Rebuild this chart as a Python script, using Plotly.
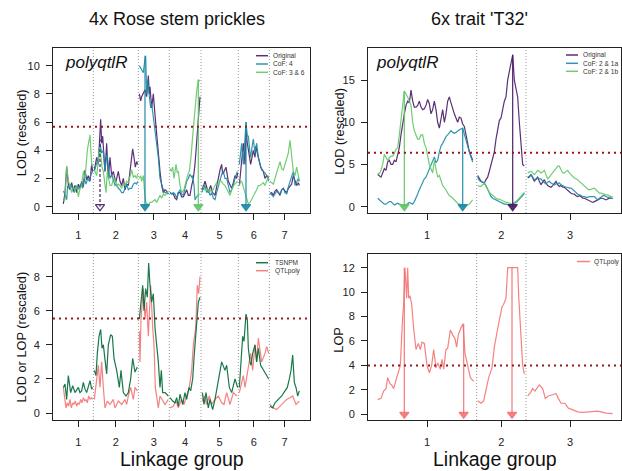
import bisect
import plotly.graph_objects as go

# ======================= DATA =======================
# --- 4x rose: map (cM) ---
rose_lg_names = ["1", "2", "3", "4", "5", "6", "7"]
rose_lg_bounds = [0, 90, 225, 318, 413, 525, 618, 710]

rose_threshold_top = 5.67
rose_threshold_bottom = 5.54

# polyqtlR, Original
rose_original_cm = [0, 5, 10, 15, 20, 25, 30, 35, 40, 45, 50, 55, 60, 65, 70, 75, 80, 85, 88,
                    93, 100, 105, 108, 112, 115, 118, 122, 125, 130, 135, 140, 145, 150, 157, 165, 170, 175, 180, 185, 190, 195, 200, 204, 208, 212, 216, 220, 223,
                    228, 232, 235, 240, 245, 250, 255, 258, 260, 265, 270, 275, 280, 285, 290, 295, 300, 305, 310, 315,
                    320, 325, 330, 335, 340, 345, 350, 355, 360, 365, 370, 375, 380, 385, 390, 395, 400, 405, 410,
                    415, 420, 425, 430, 435, 442, 448, 455, 460, 465, 470, 475, 478, 482, 488, 495, 500, 505, 510, 515, 520, 523,
                    528, 532, 535, 540, 545, 548, 552, 555, 560, 562, 566, 570, 575, 578, 582, 585, 592, 600, 605, 610, 616,
                    620, 625, 630, 635, 640, 645, 650, 655, 660, 665, 670, 675, 680, 685, 690, 695, 700, 705, 708]
rose_original_lod = [0.2, 1.0, 2.8, 1.6, 1.2, 1.7, 1.1, 1.5, 1.0, 1.6, 1.3, 1.8, 1.4, 2.6, 1.9, 2.2, 1.8, 3.0, 2.5,
                     2.6, 3.5, 3.0, 4.8, 6.2, 4.5, 5.0, 3.5, 2.5, 4.5, 2.0, 3.5, 2.2, 2.5, 1.7, 2.5, 1.8, 1.5, 2.0, 1.2, 1.6, 1.5, 2.5, 3.2, 4.1, 3.5, 2.8, 3.2, 3.0,
                     8.0, 7.5, 7.8, 8.0, 8.3, 7.8, 9.3, 8.0, 8.5, 7.0, 8.0, 6.5, 5.0, 3.5, 2.5, 1.5, 1.0, 1.2, 1.1, 0.9,
                     1.0, 0.9, 0.9, 0.6, 0.5, 1.0, 1.0, 0.7, 0.7, 1.0, 1.2, 0.8, 0.8, 1.5, 2.0, 3.0, 4.5, 6.0, 7.8,
                     1.2, 1.4, 1.8, 1.3, 1.0, 1.5, 1.0, 0.8, 1.5, 2.2, 2.6, 3.0, 2.3, 2.5, 2.8, 1.8, 1.6, 1.3, 1.7, 2.2, 2.0, 2.4,
                     1.5, 2.5, 3.5, 4.5, 3.0, 5.5, 4.5, 4.0, 3.2, 3.0, 3.5, 4.0, 3.5, 4.3, 3.8, 3.5, 2.8, 2.5, 2.0, 2.2, 2.0,
                     0.9, 1.0, 0.8, 1.1, 1.2, 1.0, 0.8, 1.2, 1.3, 1.1, 1.0, 1.3, 1.5, 1.6, 2.2, 1.8, 1.5, 1.7, 1.5]

# polyqtlR, CoF: 4
rose_cof4_cm = [0, 5, 10, 13, 18, 23, 28, 33, 38, 43, 48, 53, 58, 63, 68, 73, 78, 83, 88,
                93, 100, 105, 110, 115, 120, 123, 125, 128, 132, 136, 140, 145, 150, 155, 160, 165, 170, 175, 180, 185, 190, 195, 200, 205, 210, 215, 220, 223,
                228, 232, 235, 240, 244, 247, 250, 253, 255, 258, 262, 265, 268, 272, 275, 278, 282, 285, 290, 295, 300, 305, 310, 315,
                320, 325, 330, 335, 340, 345, 350, 355, 360, 365, 370, 375, 380, 385, 388, 392, 395, 400, 408,
                415, 420, 425, 430, 435, 440, 445, 450, 455, 460, 465, 470, 475, 480, 485, 490, 495, 500, 505, 510, 515, 522,
                528, 532, 535, 540, 545, 548, 552, 555, 560, 562, 566, 570, 575, 580, 585, 590, 595, 600, 605, 610, 616,
                620, 625, 630, 635, 640, 645, 650, 655, 660, 665, 670, 675, 680, 685, 690, 695, 700, 705, 708]
rose_cof4_lod = [1.1, 0.9, 0.5, 1.5, 1.3, 1.6, 1.2, 1.0, 1.5, 1.2, 1.4, 1.6, 1.3, 2.0, 1.6, 2.0, 1.8, 2.3, 2.5,
                 2.5, 3.0, 3.5, 4.5, 3.8, 4.0, 2.8, 2.5, 3.2, 3.7, 2.5, 2.0, 2.3, 1.8, 1.5, 1.6, 1.3, 1.2, 1.0, 1.0, 1.3, 1.6, 1.2, 1.3, 1.3, 1.6, 1.7, 1.6, 1.8,
                 10.0, 9.8, 9.7, 9.5, 10.3, 10.7, 8.0, 9.0, 8.5, 8.0, 7.0, 7.3, 6.7, 6.0, 5.5, 5.0, 4.0, 3.5, 2.0, 1.5, 1.2, 1.0, 1.0, 0.9,
                 1.0, 0.9, 1.0, 0.9, 0.6, 1.0, 1.2, 0.9, 0.8, 1.3, 1.8, 2.0, 2.3, 2.1, 2.2, 1.5, 0.5, 0.7, 0.9,
                 1.0, 1.3, 1.5, 1.0, 1.2, 0.8, 1.0, 0.6, 0.5, 1.0, 1.5, 2.0, 2.3, 2.5, 2.0, 2.0, 1.4, 1.0, 1.2, 1.5, 2.0, 2.5,
                 3.0, 4.0, 4.5, 3.0, 4.5, 6.0, 5.0, 5.0, 3.8, 3.5, 4.2, 4.8, 3.8, 4.5, 3.5, 3.0, 2.6, 2.5, 2.4, 2.2, 1.8,
                 1.0, 0.8, 0.7, 0.9, 1.1, 1.0, 0.9, 1.2, 1.3, 1.0, 0.9, 1.4, 1.8, 2.2, 2.5, 1.5, 1.8, 2.0, 1.8]

# polyqtlR, CoF: 3 & 6
rose_cof36_cm = [0, 5, 10, 15, 20, 25, 30, 35, 40, 45, 50, 55, 60, 65, 72, 76, 80, 85, 88,
                 93, 100, 104, 108, 113, 116, 120, 124, 128, 132, 135, 140, 145, 150, 155, 160, 165, 170, 175, 180, 185, 190, 195, 200, 205, 210, 215, 220, 223,
                 228, 232, 235, 240, 244, 247, 252, 255, 260, 265, 270, 275, 280, 285, 290, 295, 300, 305, 310, 315,
                 320, 324, 328, 332, 338, 342, 345, 350, 355, 360, 362, 366, 370, 374, 378, 383, 388, 392, 396, 400, 405, 410,
                 415, 420, 425, 430, 435, 440, 445, 450, 455, 460, 465, 470, 475, 480, 485, 490, 495, 500, 505, 510, 515, 523,
                 528, 532, 535, 540, 545, 548, 552, 555, 560, 565, 570, 575, 580, 585, 590, 595, 600, 605, 610, 616,
                 620, 625, 630, 635, 640, 645, 650, 655, 660, 665, 670, 675, 680, 685, 690, 695, 700, 705, 708]
rose_cof36_lod = [0.4, 0.5, 2.9, 1.8, 1.5, 1.0, 1.4, 1.2, 1.5, 0.7, 1.3, 1.5, 2.5, 2.0, 4.0, 4.5, 5.1, 3.0, 2.8,
                  2.6, 2.2, 3.0, 4.2, 3.5, 2.8, 2.5, 1.8, 1.0, 2.5, 2.2, 1.5, 1.5, 2.0, 2.0, 1.4, 1.6, 1.5, 1.3, 1.6, 1.5, 1.8, 1.7, 2.2, 2.6, 2.1, 2.2, 2.0, 2.3,
                  2.0, 2.2, 1.8, 2.2, 1.0, 0.3, 0.2, 0.1, 0.3, 0.3, 0.4, 0.5, 0.3, 0.5, 0.8, 0.6, 0.9, 0.8, 1.0, 1.1,
                  2.7, 2.5, 2.8, 2.0, 3.0, 2.4, 2.5, 1.5, 1.0, 1.1, 1.2, 1.6, 2.0, 2.3, 2.5, 3.5, 5.0, 6.0, 7.5, 8.2, 9.0, 8.9,
                  1.5, 1.4, 1.2, 1.3, 1.1, 1.2, 1.0, 1.3, 1.5, 1.7, 1.5, 1.9, 1.7, 1.6, 1.5, 1.3, 1.0, 0.8, 1.2, 1.5, 1.6, 1.8,
                  1.5, 1.8, 1.8, 1.4, 1.0, 0.8, 0.4, 0.2, 0.3, 0.5, 0.8, 1.0, 1.2, 1.5, 1.5, 1.6, 1.7, 1.5, 1.8, 2.2,
                  1.8, 1.7, 1.6, 2.0, 2.5, 2.8, 3.2, 2.7, 2.6, 3.0, 3.3, 3.8, 4.7, 3.5, 2.5, 2.2, 2.8, 2.2, 1.8]

# TSNPM (LOD, rescaled)
rose_tsnpm_cm = [0, 5, 10, 15, 22, 28, 35, 40, 45, 50, 55, 60, 65, 70, 75, 80, 85, 88,
                 93, 98, 102, 107, 112, 116, 120, 125, 130, 135, 142, 147, 152, 160, 168, 173, 180, 188, 195, 202, 208, 215, 222,
                 228, 232, 238, 242, 247, 252, 256, 260, 265, 270, 275, 280, 285, 290, 294, 298, 305, 315,
                 320, 328, 335, 340, 345, 350, 358, 365, 370, 377, 382, 388, 393, 400, 405, 410,
                 417, 422, 428, 435, 440, 448, 455, 465, 475, 485, 490, 498, 505, 515, 523,
                 528, 532, 538, 542, 548, 552, 555, 560, 563, 568, 575, 580, 585, 592, 600, 610, 616,
                 620, 628, 635, 645, 655, 665, 672, 678, 683, 688, 693, 698, 703, 708]
rose_tsnpm_lod = [1.5, 1.7, 0.8, 2.2, 1.2, 1.6, 1.2, 1.4, 1.5, 1.2, 1.3, 1.8, 1.4, 1.2, 1.6, 1.9, 1.4, 1.5,
                  2.5, 2.2, 3.5, 4.5, 4.9, 3.8, 4.0, 3.2, 2.3, 4.0, 4.6, 4.5, 3.2, 2.5, 1.5, 2.5, 1.2, 1.0, 1.2, 2.0, 3.2, 2.4, 2.7,
                  5.5, 6.5, 7.5, 6.0, 7.3, 6.8, 8.8, 7.5, 6.5, 7.0, 5.0, 4.0, 3.0, 1.5, 2.5, 1.2, 1.2, 1.0,
                  0.9, 0.7, 0.6, 0.9, 0.4, 1.1, 0.5, 1.2, 0.8, 1.5, 1.3, 2.0, 3.5, 5.0, 6.5, 6.8,
                  1.2, 0.5, 1.2, 0.3, 0.8, 0.2, 0.8, 2.0, 3.0, 2.5, 2.8, 1.5, 1.2, 2.0, 1.5,
                  1.5, 3.0, 4.5, 4.2, 5.8, 5.5, 3.8, 3.0, 2.8, 3.5, 4.0, 3.0, 3.8, 2.8, 2.5, 2.2, 2.0,
                  0.4, 0.3, 0.6, 0.8, 1.0, 1.3, 1.5, 2.0, 2.5, 3.4, 1.8, 1.5, 1.0, 1.3]

# QTLpoly (LOP, rescaled)
rose_qtlpoly_cm = [0, 4, 8, 12, 16, 20, 24, 28, 32, 36, 40, 44, 48, 52, 56, 60, 64, 68, 72, 76, 80, 84, 88,
                   93, 100, 105, 110, 115, 120, 125, 132, 140, 150, 155, 165, 175, 185, 190, 195, 202, 210, 215, 222,
                   228, 230, 233, 240, 245, 250, 255, 262, 268, 272, 276, 280, 285, 290, 297, 305, 315,
                   320, 330, 338, 345, 355, 362, 370, 378, 385, 390, 397, 402, 406, 410,
                   417, 423, 430, 438, 445, 455, 465, 475, 482, 490, 500, 510, 520,
                   528, 535, 540, 545, 555, 562, 568, 575, 580, 585, 595, 605, 610, 616,
                   620, 630, 640, 650, 660, 670, 680, 688, 698, 708]
rose_qtlpoly_lop = [1.5, 0.8, 0.3, 0.6, 0.4, 0.8, 0.3, 0.6, 0.5, 0.7, 0.4, 0.6, 0.5, 0.8, 0.6, 0.9, 0.7, 0.8, 0.6, 1.0, 0.8, 0.9, 0.8,
                    0.8, 2.0, 2.8, 1.5, 3.0, 1.5, 0.3, 0.7, 0.5, 0.8, 0.3, 0.7, 0.5, 0.8, 0.5, 1.0, 1.5, 0.8, 1.5, 1.3,
                    4.8, 3.0, 5.5, 7.3, 5.5, 6.5, 4.5, 7.5, 5.0, 4.0, 1.5, 0.8, 0.3, 1.0, 0.8, 0.5, 0.8,
                    0.3, 0.4, 0.7, 0.3, 0.8, 0.5, 1.0, 1.5, 2.5, 4.0, 5.0, 7.5, 7.0, 8.0,
                    0.7, 1.0, 0.5, 1.0, 0.5, 0.8, 1.0, 0.6, 0.5, 1.2, 0.5, 1.2, 1.0,
                    1.2, 1.8, 2.2, 1.5, 2.8, 3.5, 2.5, 4.0, 3.0, 4.4, 3.0, 3.5, 3.9, 3.5,
                    0.5, 0.3, 0.2, 0.4, 0.6, 0.8, 0.9, 1.0, 0.5, 0.7]

# QTL peaks marked by arrows (top panel)
rose_arrow_cm = [110, 245, 405, 548]
rose_arrow_top = [4.8, 10.7, 9.0, 6.0]
rose_arrow_series = ["Original", "CoF: 4", "CoF: 3 & 6", "CoF: 4"]

# --- 6x T32: map (cM) ---
t32_lg_names = ["1", "2", "3"]
t32_lg_bounds = [0, 297, 445, 710]

t32_threshold_top = 6.4
t32_threshold_bottom = 4.0

t32_lg1_cm = [0, 5, 10, 15, 20, 25, 30, 35, 40, 45, 50, 55, 60, 65, 70, 75, 80, 85, 90, 95,
              100, 105, 110, 115, 120, 125, 130, 135, 140, 145, 150, 155, 160, 165, 170, 175, 180, 185, 190, 195,
              200, 205, 210, 215, 220, 225, 230, 235, 240, 245, 250, 255, 260, 265, 270, 275, 280, 285]
t32_lg2_cm = [300, 305, 310, 315, 320, 325, 330, 335, 340, 345, 350, 355, 360, 365, 370, 375, 380, 385, 390, 395,
              400, 405, 410, 415, 420, 425, 430, 435, 440]
t32_lg3_cm = [450, 455, 460, 465, 470, 475, 480, 485, 490, 495, 500, 505, 510, 515, 520, 525, 530, 535, 540, 545,
              550, 555, 560, 565, 570, 575, 580, 585, 590, 595, 600, 605, 610, 615, 620, 625, 630, 635, 640, 645,
              650, 655, 660, 665, 670, 675, 680, 685, 690, 695, 700, 705]

t32_original_lod = [3.8, 3.6, 3.5, 4.0, 4.5, 4.3, 5.3, 5.5, 5.0, 5.0, 5.5, 5.3, 6.0, 7.0, 8.5, 10.0, 11.0, 12.0, 12.5, 12.3,
                    13.8, 12.5, 11.8, 11.8, 12.0, 12.5, 11.8, 11.5, 11.6, 12.0, 12.7, 12.2, 11.0, 11.5, 12.5, 11.5, 10.0, 9.3, 10.5, 11.5,
                    10.0, 11.0, 12.5, 13.0, 12.3, 11.5, 11.0, 10.5, 10.0, 10.6, 10.5, 9.8, 9.5, 8.5, 7.5, 6.5, 6.0, 5.5,
                    3.7, 3.3, 3.0, 2.9, 2.8, 3.2, 3.5, 4.2, 5.0, 5.5, 6.5, 8.0, 9.0, 10.2, 10.5, 11.5, 12.5, 13.0, 15.0, 16.0,
                    17.0, 18.0, 15.0, 14.0, 13.0, 10.0, 7.5, 5.0, 4.8,
                    3.4, 3.5, 3.8, 3.3, 3.0, 3.3, 3.5, 3.0, 2.6, 2.9, 3.2, 2.8, 2.5, 2.4, 2.3, 2.5, 2.8, 3.0, 2.6, 2.4,
                    2.5, 2.3, 2.3, 2.1, 2.0, 1.8, 1.6, 1.5, 1.5, 1.3, 1.2, 1.3, 1.2, 1.0, 1.0, 0.9, 0.8, 0.7, 0.6, 0.5,
                    0.6, 0.7, 0.8, 0.9, 1.0, 1.0, 0.9, 0.8, 0.9, 1.0, 1.0, 1.0]
t32_cof21a_lod = [1.0, 0.8, 0.6, 0.5, 0.3, 0.3, 0.5, 0.6, 0.6, 0.4, 0.2, 0.3, 0.4, 0.3, 0.2, 0.1, 0.1, 0.2, 0.4, 0.5,
                  0.4, 0.3, 0.6, 1.0, 1.5, 2.0, 2.5, 3.0, 3.3, 3.5, 4.0, 4.5, 5.0, 5.5, 5.9, 5.2, 5.5, 6.5, 7.2, 7.5,
                  8.0, 8.3, 8.5, 8.8, 9.0, 8.8, 8.7, 8.8, 9.0, 9.1, 9.2, 9.3, 8.6, 8.0, 7.2, 6.5, 6.0, 5.3,
                  3.5, 3.1, 3.0, 2.9, 2.8, 2.5, 2.0, 1.5, 1.2, 1.0, 0.9, 0.8, 0.7, 0.6, 0.5, 0.4, 0.3, 0.3, 0.2, 0.2,
                  0.2, 0.3, 0.4, 0.5, 0.7, 0.9, 1.0, 1.3, 1.6,
                  3.5, 3.6, 3.8, 3.5, 3.2, 3.2, 3.4, 3.3, 3.3, 3.0, 2.9, 2.7, 2.9, 3.0, 2.8, 2.7, 2.6, 2.7, 2.8, 2.8,
                  2.6, 2.5, 2.4, 2.3, 2.3, 2.2, 2.2, 2.0, 1.8, 1.6, 1.5, 1.4, 1.3, 1.2, 1.2, 1.1, 1.1, 1.2, 1.2, 1.2,
                  1.2, 1.0, 0.8, 1.0, 1.1, 1.3, 1.3, 1.2, 1.1, 1.1, 1.0, 1.0]
t32_cof21b_lod = [4.0, 3.9, 4.3, 5.0, 6.2, 5.8, 5.5, 5.8, 6.0, 6.0, 6.3, 6.8, 7.0, 8.5, 10.0, 12.0, 13.7, 13.4, 13.0, 12.5,
                  12.0, 10.0, 9.0, 8.5, 8.0, 8.0, 8.5, 8.5, 7.5, 7.0, 6.0, 5.0, 4.5, 4.0, 5.5, 4.5, 3.5, 3.7, 3.0, 2.5,
                  2.3, 2.0, 1.6, 1.3, 1.2, 1.0, 0.7, 0.6, 0.4, 0.3, 0.2, 0.1, 0.1, 0.2, 0.2, 0.3, 0.5, 0.8,
                  2.5, 2.4, 2.4, 2.6, 2.8, 2.4, 2.0, 1.7, 1.5, 1.3, 1.1, 1.0, 0.9, 0.9, 0.8, 0.7, 0.6, 0.5, 0.5, 0.4,
                  0.3, 0.4, 0.5, 0.6, 0.8, 1.0, 1.2, 1.5, 1.7,
                  4.0, 4.1, 4.2, 4.0, 3.8, 4.0, 4.3, 4.2, 4.0, 4.1, 4.3, 3.8, 3.3, 3.5, 3.8, 4.0, 4.3, 4.5, 4.8, 4.8,
                  4.4, 4.0, 4.0, 4.2, 4.3, 4.0, 3.8, 3.5, 3.4, 3.3, 3.2, 3.0, 2.8, 2.7, 2.5, 2.3, 2.1, 2.0, 2.1, 2.2,
                  2.2, 2.0, 1.8, 1.6, 1.6, 1.5, 1.5, 1.4, 1.4, 1.3, 1.2, 1.2]

t32_arrow_cm = [80, 255, 405]
t32_arrow_top = [13.7, 9.3, 18.0]
t32_arrow_series = ["CoF: 2 & 1b", "CoF: 2 & 1a", "Original"]

# QTLpoly (LOP) for T32
t32_qtlpoly_cm = [0, 10, 18, 25, 30, 37, 42, 48, 55, 62, 68, 75, 78, 82, 87, 90, 93, 97, 102, 108,
                  115, 122, 128, 133, 140, 148, 155, 162, 168, 175, 180, 188, 193, 198, 205, 210, 218, 225, 232, 237,
                  242, 250, 256, 262, 270, 278, 288,
                  300, 310, 318, 325, 333, 343, 350, 360, 373, 378, 385, 390, 420, 423, 428, 435, 440,
                  450, 457, 465, 472, 485, 495, 503, 512, 525, 535, 542, 550, 562, 572, 582, 590, 600, 615, 630, 645,
                  660, 670, 685, 705]
t32_qtlpoly_lop = [1.2, 1.3, 1.9, 2.1, 3.0, 2.5, 2.4, 2.1, 2.8, 3.5, 4.0, 8.0, 9.0, 12.0, 9.5, 12.0, 9.5, 9.7, 9.0, 7.0,
                   5.3, 5.8, 5.3, 5.9, 5.8, 4.0, 3.4, 4.0, 5.3, 3.8, 4.2, 3.7, 4.5, 3.7, 5.3, 5.4, 6.9, 6.5, 6.2, 5.5,
                   6.5, 7.1, 7.4, 5.0, 4.0, 3.0, 2.7,
                   1.1, 0.9, 1.1, 2.0, 3.0, 3.8, 5.5, 7.0, 8.8, 9.0, 9.5, 12.0, 12.0, 9.7, 7.0, 4.0, 3.3,
                   1.5, 1.7, 2.1, 1.9, 2.4, 2.1, 1.3, 1.5, 1.6, 1.7, 1.3, 0.9, 0.9, 0.5, 0.4, 0.3, 0.2, 0.15, 0.2, 0.25,
                   0.25, 0.2, 0.1, 0.05]
t32_qtlpoly_arrow_cm = [80, 258, 403]
t32_qtlpoly_arrow_top = [12.0, 7.4, 12.0]

# ======================= STYLE =======================
W, H = 622, 471
FONT = "Liberation Sans, Arial, Helvetica, sans-serif"
COL = {
    "Original": "rgba(72,26,104,0.9)",
    "CoF: 4": "rgba(28,138,166,0.9)",
    "CoF: 3 & 6": "rgba(96,200,100,0.9)",
    "CoF: 2 & 1a": "rgba(28,138,166,0.9)",
    "CoF: 2 & 1b": "rgba(96,200,100,0.9)",
    "TSNPM": "rgba(0,104,55,0.9)",
    "QTLpoly": "rgba(242,108,108,0.85)",
}
THR_COL = "#9b1616"
SEP_COL = "#9a9a9a"
LW = 1.2


def fx(px):
    return px / W


def fy(py):
    return 1 - py / H


def split_lg(pos, val, bounds):
    xs, ys, prev = [], [], None
    for p, v in zip(pos, val):
        g = bisect.bisect_right(bounds, p)
        if prev is not None and g != prev:
            xs.append(None)
            ys.append(None)
        xs.append(p)
        ys.append(v)
        prev = g
    return xs, ys


def mids(bounds):
    return [(a + b) / 2 for a, b in zip(bounds[:-1], bounds[1:])]


fig = go.Figure()


def add_series(pos, val, bounds, color, xa, ya):
    xs, ys = split_lg(pos, val, bounds)
    fig.add_trace(go.Scatter(x=xs, y=ys, mode="lines", line=dict(color=color, width=LW),
                             xaxis=xa, yaxis=ya, hoverinfo="skip", connectgaps=False))


def add_arrow(x, top, color, xa, ya, dashed=False):
    fig.add_trace(go.Scatter(x=[x, x], y=[top, 0], mode="lines",
                             line=dict(color=color, width=1.3, dash="3px,2px" if dashed else "solid"),
                             xaxis=xa, yaxis=ya, hoverinfo="skip"))
    fig.add_trace(go.Scatter(x=[x], y=[0], mode="markers",
                             marker=dict(symbol="triangle-down-open" if dashed else "triangle-down",
                                         size=8, color=color, line=dict(color=color, width=1.2)),
                             xaxis=xa, yaxis=ya, hoverinfo="skip"))


# top-left: rose polyqtlR
add_series(rose_original_cm, rose_original_lod, rose_lg_bounds, COL["Original"], "x", "y")
add_series(rose_cof4_cm, rose_cof4_lod, rose_lg_bounds, COL["CoF: 4"], "x", "y")
add_series(rose_cof36_cm, rose_cof36_lod, rose_lg_bounds, COL["CoF: 3 & 6"], "x", "y")
for x, t, s in zip(rose_arrow_cm, rose_arrow_top, rose_arrow_series):
    add_arrow(x, t, COL[s], "x", "y", dashed=(s == "Original"))

# top-right: T32 polyqtlR
t32_cm = t32_lg1_cm + t32_lg2_cm + t32_lg3_cm
add_series(t32_cm, t32_original_lod, t32_lg_bounds, COL["Original"], "x2", "y2")
add_series(t32_cm, t32_cof21a_lod, t32_lg_bounds, COL["CoF: 2 & 1a"], "x2", "y2")
add_series(t32_cm, t32_cof21b_lod, t32_lg_bounds, COL["CoF: 2 & 1b"], "x2", "y2")
for x, t, s in zip(t32_arrow_cm, t32_arrow_top, t32_arrow_series):
    add_arrow(x, t, COL[s], "x2", "y2")

# bottom-left: rose TSNPM vs QTLpoly
add_series(rose_qtlpoly_cm, rose_qtlpoly_lop, rose_lg_bounds, COL["QTLpoly"], "x3", "y3")
add_series(rose_tsnpm_cm, rose_tsnpm_lod, rose_lg_bounds, COL["TSNPM"], "x3", "y3")

# bottom-right: T32 QTLpoly
add_series(t32_qtlpoly_cm, t32_qtlpoly_lop, t32_lg_bounds, COL["QTLpoly"], "x4", "y4")
for x, t in zip(t32_qtlpoly_arrow_cm, t32_qtlpoly_arrow_top):
    add_arrow(x, t, COL["QTLpoly"], "x4", "y4")

# ======================= AXES =======================
TL = dict(x0=53, x1=310, y0=47.5, y1=213)
TR = dict(x0=368, x1=621, y0=47.5, y1=213)
BL = dict(x0=53, x1=310, y0=254, y1=420)
BR = dict(x0=368, x1=621, y0=254, y1=420)

common = dict(showline=True, linecolor="#222", linewidth=1, mirror=True, ticks="outside", ticklen=6,
              tickwidth=1, tickcolor="#222", showgrid=False, zeroline=False,
              tickfont=dict(family=FONT, size=11, color="#222"))


def xax(box, rng, bounds, names, anchor):
    d = dict(common)
    d.update(domain=[fx(box["x0"]), fx(box["x1"])], range=rng, anchor=anchor,
             tickmode="array", tickvals=mids(bounds), ticktext=names, ticklabelstandoff=6)
    return d


def yax(box, rng, ticks, anchor):
    d = dict(common)
    d.update(domain=[fy(box["y1"]), fy(box["y0"])], range=rng, anchor=anchor,
             tickmode="array", tickvals=ticks, ticktext=[str(t) for t in ticks], ticklabelstandoff=4)
    return d


layout = dict(
    width=W, height=H, autosize=False, margin=dict(l=0, r=0, t=0, b=0),
    paper_bgcolor="white", plot_bgcolor="white", showlegend=False,
    xaxis=xax(TL, [-31, 740], rose_lg_bounds, rose_lg_names, "y"),
    yaxis=yax(TL, [-0.45, 11.29], [0, 2, 4, 6, 8, 10], "x"),
    xaxis2=xax(TR, [-29, 730], t32_lg_bounds, t32_lg_names, "y2"),
    yaxis2=yax(TR, [-0.75, 18.86], [0, 5, 10, 15], "x2"),
    xaxis3=xax(BL, [-31, 740], rose_lg_bounds, rose_lg_names, "y3"),
    yaxis3=yax(BL, [-0.41, 9.33], [0, 2, 4, 6, 8], "x3"),
    xaxis4=xax(BR, [-29, 730], t32_lg_bounds, t32_lg_names, "y4"),
    yaxis4=yax(BR, [-0.47, 13.12], [0, 2, 4, 6, 8, 10, 12], "x4"),
)
fig.update_layout(**layout)

shapes = []
annotations = []

# linkage group separators
for xa, ya, bounds in [("x", "y", rose_lg_bounds), ("x2", "y2", t32_lg_bounds),
                       ("x3", "y3", rose_lg_bounds), ("x4", "y4", t32_lg_bounds)]:
    for b in bounds[1:-1]:
        shapes.append(dict(type="line", xref=xa, yref=ya + " domain", x0=b, x1=b, y0=0, y1=1,
                           line=dict(color=SEP_COL, width=1, dash="1px,2px"), layer="below"))

# significance thresholds
for xa, ya, thr in [("x", "y", rose_threshold_top), ("x2", "y2", t32_threshold_top),
                    ("x3", "y3", rose_threshold_bottom), ("x4", "y4", t32_threshold_bottom)]:
    shapes.append(dict(type="line", xref=xa + " domain", yref=ya, x0=0, x1=1, y0=thr, y1=thr,
                       line=dict(color=THR_COL, width=2, dash="2px,4px")))


def legend(x_line0, x_line1, x_text, rows, labels):
    for y, lab in zip(rows, labels):
        shapes.append(dict(type="line", xref="paper", yref="paper", x0=fx(x_line0), x1=fx(x_line1),
                           y0=fy(y), y1=fy(y), line=dict(color=COL[lab], width=1.5)))
        annotations.append(dict(x=fx(x_text), y=fy(y), xref="paper", yref="paper", text=lab,
                                showarrow=False, xanchor="left", yanchor="middle", borderpad=0,
                                font=dict(family=FONT, size=6.6, color="#333")))


legend(256, 268, 272, [55.7, 64, 72.3], ["Original", "CoF: 4", "CoF: 3 & 6"])
legend(566, 578, 582, [55, 63.3, 71.3], ["Original", "CoF: 2 & 1a", "CoF: 2 & 1b"])
legend(256, 268, 274, [262.7, 270.7], ["TSNPM", "QTLpoly"])
legend(577, 590, 593, [261.5], ["QTLpoly"])


def text(x, y, s, size, angle=0, anchor="center"):
    annotations.append(dict(x=fx(x), y=fy(y), xref="paper", yref="paper", text=s, showarrow=False,
                            xanchor=anchor, yanchor="middle", textangle=angle,
                            font=dict(family=FONT, size=size, color="#111")))


text(176.7, 19, "4x Rose stem prickles", 18)
text(480, 19, "6x trait 'T32'", 18)
text(63, 63, "<i>polyqtlR</i>", 17, anchor="left")
text(374, 63, "<i>polyqtlR</i>", 17, anchor="left")
text(21.7, 132.5, "LOD (rescaled)", 12.8, angle=-90)
text(339.3, 131.5, "LOD (rescaled)", 12.8, angle=-90)
text(21.7, 336.7, "LOD or LOP (rescaled)", 12.8, angle=-90)
text(337.7, 340, "LOP", 12.8, angle=-90)
text(181.5, 459, "Linkage group", 19.5)
text(494.5, 459, "Linkage group", 19.5)

fig.update_layout(shapes=shapes, annotations=annotations)
fig.write_html("out.html")
